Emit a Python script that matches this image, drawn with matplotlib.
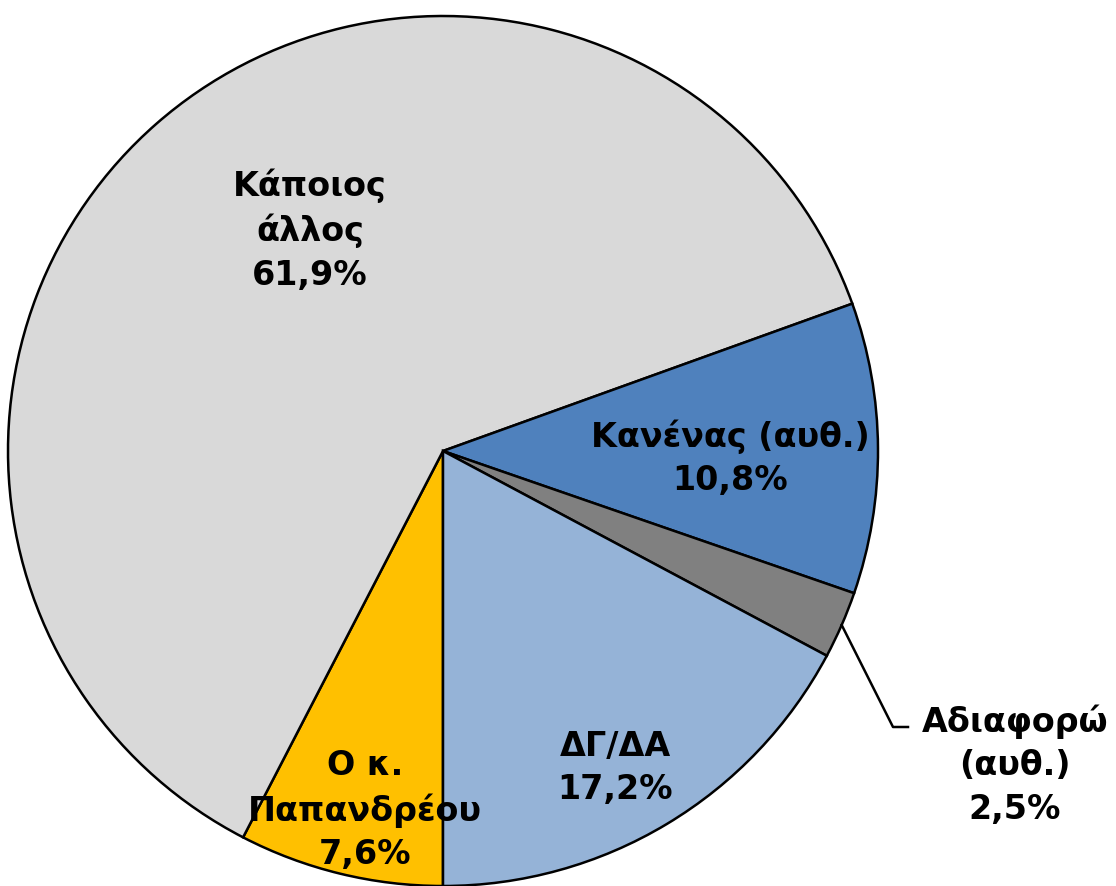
import matplotlib
matplotlib.use("Agg")
from matplotlib import pyplot as plt
import numpy as np

# slices in drawing order, clockwise from 6 o'clock
labels = ["Ο κ.\nΠαπανδρέου", "Κάποιος\nάλλος", "Κανένας (αυθ.)", "Αδιαφορώ\n(αυθ.)", "ΔΓ/ΔΑ"]
values = [7.6, 61.9, 10.8, 2.5, 17.2]
colors = ["#FFC000", "#D9D9D9", "#4F81BD", "#808080", "#95B3D7"]

W, H = 1116, 887
fig = plt.figure(figsize=(W / 100, H / 100), dpi=100)
ax = fig.add_axes([0, 0, 1, 1])

cx, cy, R = 443, H - 452, 435
wedges, _ = ax.pie(values, colors=colors, startangle=-90, counterclock=False,
                   center=(cx, cy), radius=R, frame=True,
                   wedgeprops=dict(edgecolor="black", linewidth=1.8))
ax.set_xlim(0, W)
ax.set_ylim(0, H)
ax.axis("off")

# label positions in pixels from the top-left corner
label_pos = [(365, 810), (310, 230), (730, 458), (1015, 765), (615, 768)]

font = dict(fontsize=24, fontweight="bold", family="DejaVu Sans",
            ha="center", va="center", linespacing=1.4)
for lab, v, (px, py) in zip(labels, values, label_pos):
    txt = lab + "\n" + f"{v:.1f}".replace(".", ",") + "%"
    ax.text(px, H - py, txt, **font)

# leader line for the small slice
w = wedges[3]
mid = np.deg2rad((w.theta1 + w.theta2) / 2)
x0, y0 = cx + R * np.cos(mid), cy + R * np.sin(mid)
ax.plot([x0, 893, 908], [y0, H - 728, H - 728], color="black", lw=1.8)

fig.savefig("out.png", dpi=100)
